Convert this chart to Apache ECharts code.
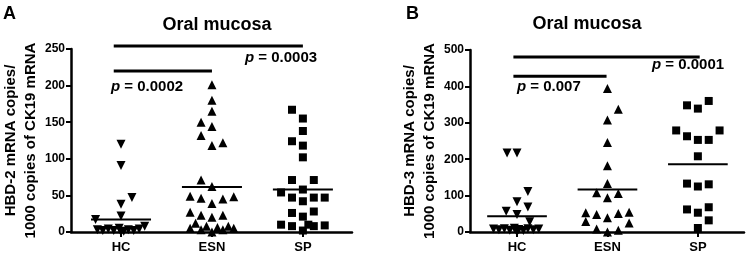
<!DOCTYPE html>
<html>
<head>
<meta charset="utf-8">
<script src="https://cdn.jsdelivr.net/npm/echarts@6/dist/echarts.min.js"></script>
<style>
  html, body { margin: 0; padding: 0; background: #fff; }
  #main { width: 750px; height: 256px; }
</style>
</head>
<body>
<div id="main"></div>
<script>
var groups = ['HC', 'ESN', 'SP'];

// panel A - HBD-2 copies / 1000 CK19
var hcA = [120, 91, 47, 38, 22, 17, 8, 3, 2, 4, 2, 5, 1, 3, 2, 4, 0];
var hcAJit = [0, 0, 0.12, 0, 0, -0.28, 0.26, -0.26, -0.2, -0.14, -0.08, -0.02, 0.03, 0.08, 0.14, 0.2, 0];
var esnA = [201, 180, 165, 150, 144, 132, 118, 122, 71, 62, 49, 46, 39, 45, 48, 27, 23, 20, 23, 12, 8, 8, 5, 6, 5, 3, 3, 0];
var esnAJit = [0, 0, 0, -0.12, 0, -0.12, 0, 0.12, -0.12, 0, -0.24, -0.12, 0, 0.12, 0.24, -0.24, -0.12, 0, 0.12, -0.18, -0.06, 0.18, -0.24, 0.06, 0.24, -0.12, 0.12, 0];
var spA = [167, 155, 138, 124, 118, 102, 71, 71, 58, 54, 47, 47, 47, 42, 26, 28, 21, 10, 8, 10, 8, 9, 2];
var spAJit = [-0.12, 0, 0, -0.12, 0, 0, -0.12, 0.12, 0, -0.24, -0.12, 0.12, 0.24, 0, -0.12, 0.12, 0, -0.24, -0.12, 0.06, 0.12, 0.24, 0];
var meanA = [17, 61.5, 58];

// panel B - HBD-3 copies / 1000 CK19
var hcB = [217, 217, 111, 83, 69, 57, 48, 28, 8, 6, 9, 5, 10, 7, 4, 9, 6, 8, 3, 0];
var hcBJit = [-0.11, 0, 0.12, 0, 0.12, -0.12, 0, 0.14, -0.26, -0.2, -0.14, -0.08, -0.03, 0.02, 0.07, 0.12, 0.18, 0.24, 0, 0];
var esnB = [394, 337, 308, 246, 182, 133, 108, 106, 94, 53, 48, 51, 54, 29, 39, 25, 8, 5, 0];
var esnBJit = [0, 0.12, 0, 0, 0, 0, -0.12, 0.12, 0, -0.24, -0.12, 0.12, 0.24, -0.24, 0, 0.24, -0.12, 0.12, 0];
var spB = [348, 339, 360, 279, 263, 253, 253, 279, 208, 133, 125, 131, 62, 53, 68, 32, 11];
var spBJit = [-0.12, 0, 0.12, -0.24, -0.12, 0, 0.12, 0.24, 0, -0.12, 0, 0.12, -0.12, 0, 0.12, 0.12, 0];
var meanB = [43, 117, 186];

var font = 'Liberation Sans, Arial, sans-serif';

function pts(vals, jit, g) {
    return vals.map(function (v, i) { return [g + jit[i], v]; });
}

function dots(vals, jit, g, idx, sym) {
    return {
        type: 'scatter',
        xAxisIndex: idx, yAxisIndex: idx,
        symbol: sym === 'down' ? 'triangle' : sym,
        symbolRotate: sym === 'down' ? 180 : 0,
        symbolSize: sym === 'rect' ? 8 : 9,
        itemStyle: { color: '#000', opacity: 1 },
        data: pts(vals, jit, g),
        z: 3
    };
}

function hline(x0, x1, y, idx, w) {
    return {
        type: 'line',
        xAxisIndex: idx, yAxisIndex: idx,
        clip: false,
        symbol: 'none',
        silent: true,
        lineStyle: { color: '#000', width: w },
        data: [[x0, y], [x1, y]],
        z: 4
    };
}

var series = [
    dots(hcA, hcAJit, 1, 0, 'down'),
    dots(esnA, esnAJit, 2, 0, 'triangle'),
    dots(spA, spAJit, 3, 0, 'rect'),
    dots(hcB, hcBJit, 1, 1, 'down'),
    dots(esnB, esnBJit, 2, 1, 'triangle'),
    dots(spB, spBJit, 3, 1, 'rect')
];
meanA.forEach(function (m, i) { series.push(hline(i + 1 - 0.33, i + 1 + 0.33, m, 0, 2)); });
meanB.forEach(function (m, i) { series.push(hline(i + 1 - 0.33, i + 1 + 0.33, m, 1, 2)); });
// significance bars
series.push(hline(0.92, 3, 254, 0, 3));
series.push(hline(0.92, 2, 220, 0, 3));
series.push(hline(0.96, 3.02, 481, 1, 3));
series.push(hline(0.96, 1.99, 428, 1, 3));

function xAx(idx, mn, mx) {
    return {
        type: 'value', gridIndex: idx, min: mn, max: mx,
        splitLine: { show: false },
        axisLine: { lineStyle: { color: '#000', width: 2.5 } },
        axisTick: { customValues: [1, 2, 3], length: 5, lineStyle: { color: '#000', width: 2 } },
        axisLabel: {
            customValues: [1, 2, 3], margin: 9,
            fontFamily: font, fontWeight: 'bold', fontSize: 13, color: '#000',
            formatter: function (v) { return groups[Math.round(v) - 1]; }
        }
    };
}

function yAx(idx, mx, step, name) {
    return {
        type: 'value', gridIndex: idx, min: 0, max: mx, interval: step,
        name: name, nameLocation: 'middle', nameGap: 28, nameRotate: 90,
        nameTextStyle: { fontFamily: font, fontWeight: 'bold', fontSize: 15, color: '#000', lineHeight: 20 },
        splitLine: { show: false },
        axisLine: { show: true, lineStyle: { color: '#000', width: 2.5 } },
        axisTick: { show: true, length: 5, lineStyle: { color: '#000', width: 2 } },
        axisLabel: { margin: 6, fontFamily: font, fontWeight: 'bold', fontSize: 12, color: '#000' }
    };
}

function ptext(x, y, num) {
    return {
        type: 'text', left: x, top: y,
        style: {
            text: '{i|p} = ' + num,
            font: 'bold 15px ' + font,
            fill: '#000',
            rich: { i: { fontStyle: 'italic', fontWeight: 'bold', fontSize: 15, fontFamily: font } }
        }
    };
}

var chart = echarts.init(document.getElementById('main'));
chart.setOption({
    backgroundColor: '#fff',
    animation: false,
    title: [
        { text: 'Oral mucosa', left: 212, top: 11, textAlign: 'center',
          textStyle: { fontFamily: font, fontWeight: 'bold', fontSize: 18, color: '#000' } },
        { text: 'Oral mucosa', left: 582, top: 10, textAlign: 'center',
          textStyle: { fontFamily: font, fontWeight: 'bold', fontSize: 18, color: '#000' } }
    ],
    grid: [
        { left: 71, right: 398, top: 49, bottom: 24 },
        { left: 470, right: 6, top: 50, bottom: 24 }
    ],
    xAxis: [xAx(0, 0.45, 3.54), xAx(1, 0.48, 3.51)],
    yAxis: [
        yAx(0, 250, 50, 'HBD-2 mRNA copies/\n1000 copies of CK19 mRNA'),
        yAx(1, 500, 100, 'HBD-3 mRNA copies/\n1000 copies of CK19 mRNA')
    ],
    graphic: [
        { type: 'text', left: 3, top: 5, style: { text: 'A', font: 'bold 18px ' + font, fill: '#000' } },
        { type: 'text', left: 406, top: 5, style: { text: 'B', font: 'bold 18px ' + font, fill: '#000' } },
        ptext(111, 79, '0.0002'),
        ptext(245, 50, '0.0003'),
        ptext(517, 79, '0.007'),
        ptext(652, 57, '0.0001')
    ],
    series: series
});
</script>
</body>
</html>
